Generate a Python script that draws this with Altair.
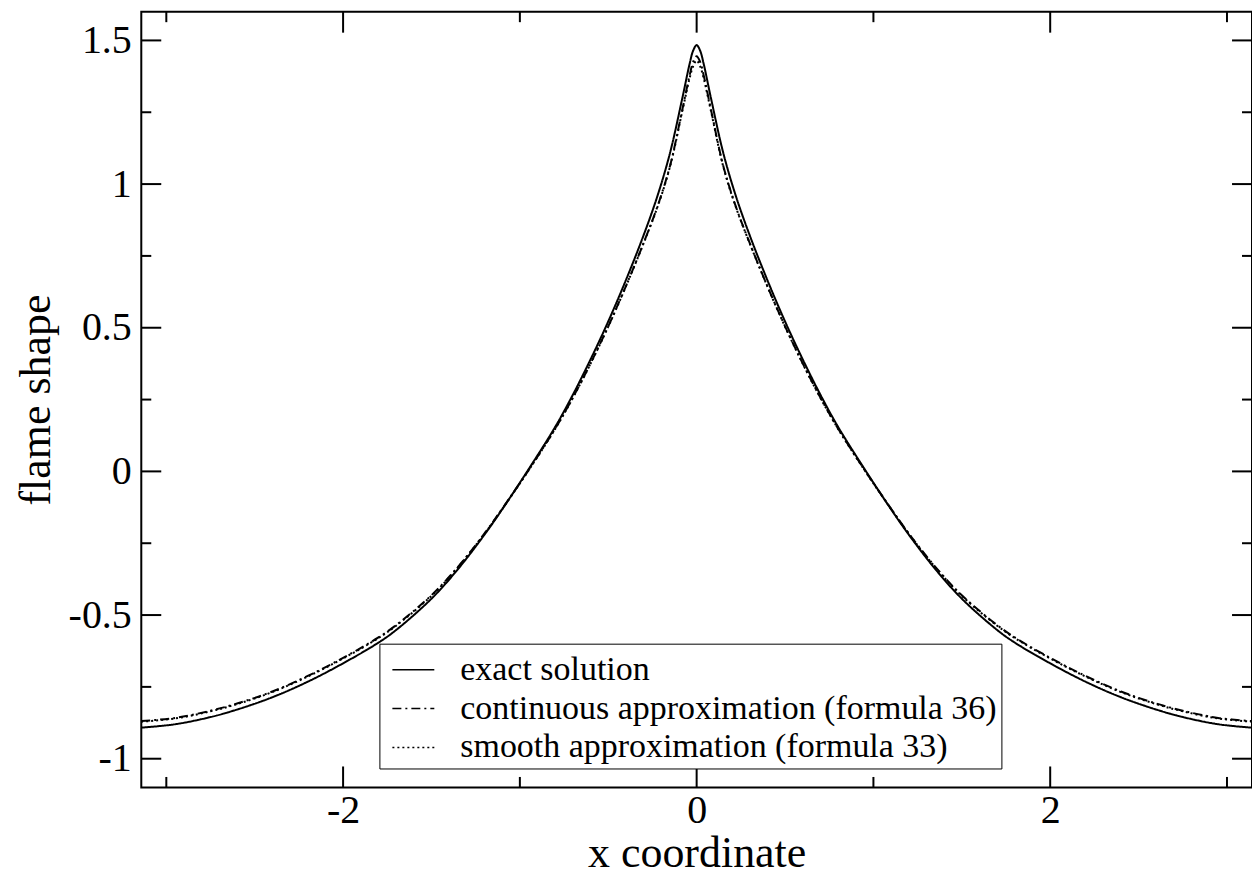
import altair as alt
import pandas as pd

PI = 3.14159

X = [-3.14159, -2.95, -2.75, -2.6, -2.4, -2.2, -2.0, -1.8, -1.7, -1.5, -1.35, -1.2, -1.1, -0.95,
     -0.8, -0.7, -0.6, -0.5, -0.4, -0.3, -0.22, -0.15, -0.08, -0.04, -0.02, 0.0,
     0.02, 0.04, 0.08, 0.15, 0.22, 0.3, 0.4, 0.5, 0.6, 0.7, 0.8,
     0.95, 1.1, 1.2, 1.35, 1.5, 1.7, 1.8, 2.0, 2.2, 2.4, 2.6, 2.75, 2.95, 3.14159]

EXACT = [-0.892, -0.88, -0.855, -0.829, -0.786, -0.732, -0.668, -0.596, -0.552, -0.443, -0.34, -0.22, -0.132, 0.008,
         0.155, 0.267, 0.39, 0.522, 0.666, 0.822, 0.962, 1.11, 1.302, 1.418, 1.464, 1.484,
         1.464, 1.418, 1.302, 1.11, 0.962, 0.822, 0.666, 0.522, 0.39, 0.267, 0.155,
         0.008, -0.132, -0.22, -0.34, -0.443, -0.552, -0.596, -0.668, -0.732, -0.786, -0.829, -0.855, -0.88, -0.892]

CONT36 = [-0.869, -0.858, -0.833, -0.808, -0.766, -0.712, -0.649, -0.578, -0.535, -0.431, -0.332, -0.216, -0.13, 0.005,
          0.149, 0.257, 0.376, 0.505, 0.645, 0.795, 0.925, 1.065, 1.262, 1.378, 1.425, 1.445,
          1.425, 1.378, 1.262, 1.065, 0.925, 0.795, 0.645, 0.505, 0.376, 0.257, 0.149,
          0.005, -0.13, -0.216, -0.332, -0.431, -0.535, -0.578, -0.649, -0.712, -0.766, -0.808, -0.833, -0.858, -0.869]

SMOOTH33 = [-0.871, -0.86, -0.835, -0.81, -0.768, -0.714, -0.651, -0.58, -0.537, -0.433, -0.334, -0.217, -0.131, 0.004,
            0.148, 0.256, 0.375, 0.504, 0.644, 0.794, 0.923, 1.062, 1.257, 1.368, 1.41, 1.43,
            1.41, 1.368, 1.257, 1.062, 0.923, 0.794, 0.644, 0.504, 0.375, 0.256, 0.148,
            0.004, -0.131, -0.217, -0.334, -0.433, -0.537, -0.58, -0.651, -0.714, -0.768, -0.81, -0.835, -0.86, -0.871]

SERIES = ["exact solution",
          "continuous approximation (formula 36)",
          "smooth approximation (formula 33)"]

X_MAJOR = [-2, 0, 2]
X_MINOR = [-3, -1, 1, 3]
Y_MAJOR = [-1, -0.5, 0, 0.5, 1, 1.5]
Y_MINOR = [-0.75, -0.25, 0.25, 0.75, 1.25]

W = 1112.5
H = 777
FONT = "Liberation Serif"

rows = []
for name, vals in zip(SERIES, [EXACT, CONT36, SMOOTH33]):
    for xv, yv in zip(X, vals):
        rows.append({"x": xv, "y": yv, "series": name})
df = pd.DataFrame(rows)

xscale = alt.Scale(domain=[-PI, PI], nice=False, zero=False)
yscale = alt.Scale(domain=[-1.1, 1.6], nice=False, zero=False)

AX = alt.Axis(values=X_MAJOR, ticks=False, domain=False, grid=False,
              labelFont=FONT, labelFontSize=40, labelColor="black",
              labelPadding=3, labelExpr="'' + datum.value",
              title="x coordinate", titleFont=FONT, titleFontSize=44,
              titleFontWeight="normal", titleColor="black",
              titleBaseline="alphabetic", titleY=79)
AY = alt.Axis(values=Y_MAJOR, ticks=False, domain=False, grid=False,
              labelFont=FONT, labelFontSize=40, labelColor="black",
              labelPadding=10, labelExpr="'' + datum.value",
              title="flame shape", titleFont=FONT, titleFontSize=44,
              titleFontWeight="normal", titleColor="black", titlePadding=10)

lines = alt.Chart(df).mark_line(strokeWidth=2, color="black", interpolate="catmull-rom").encode(
    x=alt.X("x:Q", scale=xscale, axis=AX),
    y=alt.Y("y:Q", scale=yscale, axis=AY),
    strokeDash=alt.StrokeDash(
        "series:N",
        scale=alt.Scale(domain=SERIES, range=[[1, 0], [9, 4, 2, 4], [2, 3]]),
        legend=alt.Legend(title=None, orient="none", legendX=238.5, legendY=633,
                          strokeColor="black", fillColor="white", padding=4,
                          symbolType="stroke", symbolSize=1764, symbolStrokeWidth=1.5,
                          symbolStrokeColor="black", symbolOffset=8,
                          labelFont=FONT, labelFontSize=34, labelColor="black",
                          labelOffset=25, labelLimit=1000, rowPadding=0),
    ),
)


def xticks(vals, length):
    d = pd.DataFrame({"x": vals})
    base = alt.Chart(d).mark_rule(color="black", strokeWidth=2)
    bottom = base.encode(x=alt.X("x:Q", scale=xscale, axis=AX),
                         y=alt.value(H), y2=alt.value(H - length))
    top = base.encode(x=alt.X("x:Q", scale=xscale, axis=AX),
                      y=alt.value(0), y2=alt.value(length))
    return [bottom, top]


def yticks(vals, length):
    d = pd.DataFrame({"y": vals})
    base = alt.Chart(d).mark_rule(color="black", strokeWidth=2)
    left = base.encode(y=alt.Y("y:Q", scale=yscale, axis=AY),
                       x=alt.value(0), x2=alt.value(length))
    right = base.encode(y=alt.Y("y:Q", scale=yscale, axis=AY),
                        x=alt.value(W), x2=alt.value(W - length))
    return [left, right]


layers = [lines] + xticks(X_MAJOR, 21) + xticks(X_MINOR, 10.5) + yticks(Y_MAJOR, 20) + yticks(Y_MINOR, 10)

chart = alt.layer(*layers).properties(
    width=W, height=H,
    background="white",
    autosize=alt.AutoSizeParams(type="none"),
    padding={"left": 133.5, "top": 3, "right": 0, "bottom": 88},
).configure_view(stroke="black", strokeWidth=2)

chart.save("out.html", embed_options={"renderer": "svg", "actions": False})
